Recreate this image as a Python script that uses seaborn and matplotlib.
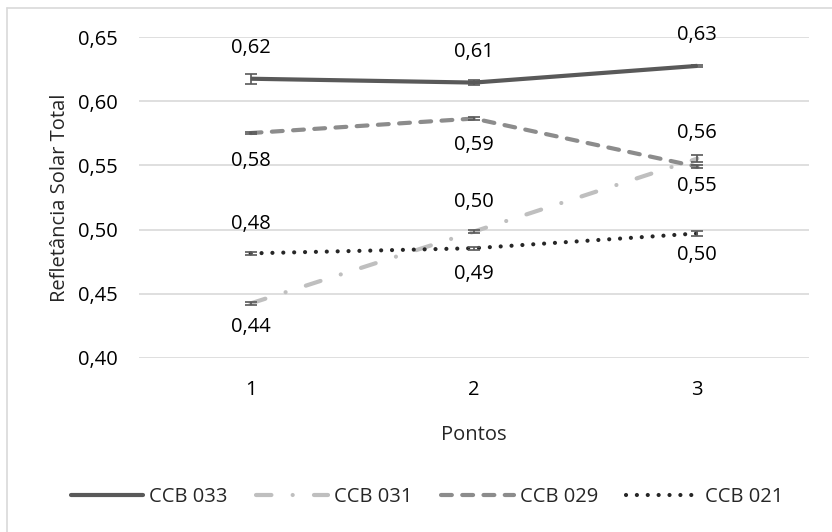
import matplotlib
matplotlib.use("Agg")
import matplotlib.pyplot as plt
from matplotlib.lines import Line2D
import seaborn as sns
import pandas as pd
import numpy as np

# Data: total solar reflectance per measurement point
pontos = ["1", "2", "3"]
ccb033 = [0.6175, 0.6145, 0.6275]
ccb031 = [0.4425, 0.4985, 0.5553]
ccb029 = [0.5752, 0.5865, 0.5490]
ccb021 = [0.4815, 0.4855, 0.4970]
err033 = [0.004, 0.002, 0.001]
err031 = [0.001, 0.001, 0.003]
err029 = [0.001, 0.001, 0.001]
err021 = [0.001, 0.001, 0.002]
nomes = ["CCB 033", "CCB 031", "CCB 029", "CCB 021"]

sns.set_theme(style="white")
plt.rcParams["font.family"] = ["Open Sans", "DejaVu Sans"]
FS = 14.5

df = pd.DataFrame({
    "Pontos": pontos * 4,
    "x": list(range(3)) * 4,
    "valor": ccb033 + ccb031 + ccb029 + ccb021,
    "erro": err033 + err031 + err029 + err021,
    "Amostra": np.repeat(nomes, 3),
})

estilos = {
    "CCB 033": dict(color="#595959", dashes=(None, None)),
    "CCB 031": dict(color="#BFBFBF", dashes=(3.7, 5.1, 0.01, 5.1)),
    "CCB 029": dict(color="#8C8C8C", dashes=(2.6, 2.5)),
    "CCB 021": dict(color="#262626", dashes=(0.01, 2.6)),
}
# label vertical offsets (in data units) for each series
desloc = {
    "CCB 033": [0.024, 0.024, 0.024],
    "CCB 031": [-0.018, 0.023, 0.020],
    "CCB 029": [-0.022, -0.021, -0.015],
    "CCB 021": [0.023, -0.020, -0.017],
}

fig = plt.figure(figsize=(8.32, 5.32), dpi=100)
ax = fig.add_axes([139 / 832, 1 - 358 / 532, (809 - 139) / 832, (358 - 37) / 532])

handles = []
for nome in nomes:
    sub = df[df["Amostra"] == nome]
    st = estilos[nome]
    sns.lineplot(data=sub, x="x", y="valor", ax=ax, color=st["color"], linewidth=3,
                 legend=False)
    ln = ax.lines[-1]
    if st["dashes"][0] is not None:
        ln.set_dashes(st["dashes"])
    ln.set_dash_capstyle("round")
    ln.set_solid_capstyle("butt")
    ax.errorbar(sub["x"], sub["valor"], yerr=sub["erro"], fmt="none",
                ecolor="#595959", elinewidth=1.2, capsize=4, capthick=1.2, zorder=3)
    for xi, v, d in zip(sub["x"], sub["valor"], desloc[nome]):
        ax.text(xi, v + d, f"{v:.2f}".replace(".", ","), ha="center", va="center",
                fontsize=FS, color="#000000")
    h = Line2D([0], [0], color=st["color"], linewidth=3, dash_capstyle="round")
    if st["dashes"][0] is not None:
        h.set_dashes(st["dashes"])
    handles.append(h)

ax.set_xlim(-0.5, 2.5)
ax.set_ylim(0.40, 0.65)
ax.set_yticks(np.arange(0.40, 0.651, 0.05))
ax.set_yticklabels([f"{t:.2f}".replace(".", ",") for t in np.arange(0.40, 0.651, 0.05)])
ax.set_xticks(range(3))
ax.set_xticklabels(pontos)
ax.tick_params(axis="both", length=0, labelsize=FS, colors="#000000")
ax.tick_params(axis="y", pad=15)
ax.tick_params(axis="x", pad=16)
ax.grid(axis="y", color="#D9D9D9", linewidth=1.2)
ax.grid(axis="x", visible=False)
for s in ax.spines.values():
    s.set_visible(False)
ax.set_xlabel("Pontos", fontsize=FS, labelpad=18)
ax.set_ylabel("Refletância Solar Total", fontsize=FS, labelpad=6)

fig.legend(handles, nomes, loc="center", bbox_to_anchor=(0.513, 1 - 497 / 532),
           ncol=4, frameon=False, fontsize=FS, handlelength=3.6,
           handletextpad=0.3, columnspacing=1.4)

# chart outer border
fig.add_artist(Line2D([7 / 832, 7 / 832], [0, 1 - 8 / 532], color="#D9D9D9", linewidth=1.2,
                      transform=fig.transFigure))
fig.add_artist(Line2D([7 / 832, 1], [1 - 8 / 532, 1 - 8 / 532], color="#D9D9D9", linewidth=1.2,
                      transform=fig.transFigure))

fig.savefig("out.png", dpi=100)
